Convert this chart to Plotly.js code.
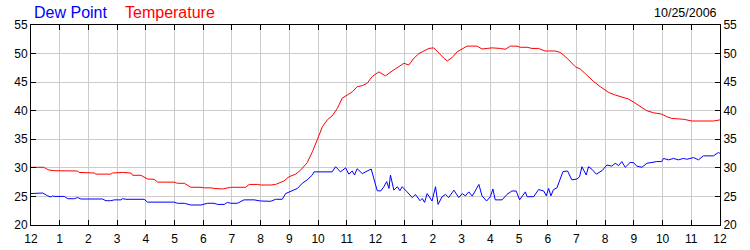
<!DOCTYPE html>
<html>
<head>
<meta charset="utf-8">
<script src="https://cdn.plot.ly/plotly-3.0.1.min.js"></script>
<style>html,body{margin:0;padding:0;background:#fff;}#chart{width:750px;height:250px;}</style>
</head>
<body>
<div id="chart"></div>
<script>
// Hours after midnight (0 = 12 AM, 24 = next 12 AM)
var tickHours = [0,1,2,3,4,5,6,7,8,9,10,11,12,13,14,15,16,17,18,19,20,21,22,23,24];
var tickLabels = ["12","1","2","3","4","5","6","7","8","9","10","11","12","1","2","3","4","5","6","7","8","9","10","11","12"];
var yTicks = [20,25,30,35,40,45,50,55];

var tempHours = [0.00,0.35,0.44,0.55,0.64,0.81,1.62,1.68,1.86,1.91,2.20,2.26,2.78,2.84,3.19,3.48,3.54,3.83,3.94,4.06,4.29,4.41,4.99,5.10,5.34,5.57,5.92,6.03,6.27,6.38,6.67,6.96,7.48,7.60,7.89,8.00,
  8.35,8.52,8.81,8.99,9.22,9.39,9.62,9.80,9.97,10.15,10.32,10.49,10.67,10.84,11.02,11.19,11.36,11.54,11.71,11.89,12.12,12.35,12.58,12.81,12.99,13.16,13.34,13.51,13.68,13.86,14.03,14.21,14.38,14.50,14.67,14.84,15.02,15.19,15.54,15.71,15.89,16.06,
  16.35,16.52,16.70,16.93,17.04,17.28,17.45,17.68,17.91,18.26,18.44,18.67,18.96,19.13,19.36,19.60,19.83,20.12,20.35,20.58,20.81,20.99,21.22,21.45,21.68,21.97,22.15,22.32,22.73,23.02,23.77,24.00];
var tempValues = [30.1,30.1,30.1,29.8,29.6,29.5,29.45,29.2,29.2,29.1,29.1,28.9,28.9,29.1,29.2,29.1,28.7,28.7,28.45,28.05,28.0,27.5,27.5,27.3,27.3,26.6,26.6,26.5,26.5,26.4,26.3,26.6,26.6,27.1,27.1,27.0,
  27.0,27.1,27.7,28.45,28.9,29.6,30.9,32.8,34.9,37.2,38.4,39.1,40.4,42.2,42.75,43.3,44.2,44.4,44.8,46.0,46.8,46.1,46.95,47.7,48.3,48.0,49.2,50.0,50.45,50.9,51.0,50.0,49.2,48.7,49.3,50.3,50.75,51.3,51.3,50.8,50.9,51.0,
  50.9,50.75,51.3,51.3,51.1,51.1,50.9,50.9,50.45,50.45,50.2,49.2,47.7,47.3,46.25,45.1,44.2,43.2,42.75,42.45,42.05,41.5,40.7,40.0,39.65,39.4,38.95,38.65,38.5,38.2,38.2,38.4];

var dewHours = [0.00,0.35,0.41,0.58,0.70,0.75,0.81,1.16,1.28,1.51,1.62,1.74,2.49,2.61,2.78,2.90,3.13,3.19,3.31,3.94,4.06,4.99,5.10,5.34,5.57,5.92,6.15,6.38,6.50,6.73,6.84,6.96,7.19,7.42,7.77,8.00,
  8.35,8.52,8.75,8.87,9.10,9.28,9.45,9.62,9.80,9.86,10.49,10.61,10.78,10.96,11.07,11.19,11.27,11.36,11.54,11.69,11.85,12.06,12.18,12.29,12.39,12.47,12.52,12.64,12.76,12.85,12.93,13.10,13.28,13.39,13.55,13.63,13.71,13.80,13.97,14.09,14.18,14.32,14.44,14.55,14.73,14.90,15.02,15.13,15.25,15.37,15.48,15.60,15.71,15.87,16.00,
  16.09,16.17,16.41,16.58,16.75,16.90,17.02,17.22,17.28,17.51,17.68,17.86,17.95,18.03,18.11,18.20,18.32,18.53,18.69,18.84,19.02,19.11,19.19,19.34,19.42,19.54,19.69,19.89,20.06,20.23,20.35,20.47,20.58,20.70,20.87,20.99,21.10,21.28,21.45,21.63,21.80,21.97,22.03,22.21,22.38,22.55,22.73,22.84,23.08,23.25,23.42,23.77,23.95,24.00];
var dewValues = [25.5,25.5,25.6,25.1,24.9,25.1,25.0,25.0,24.6,24.6,24.8,24.55,24.55,24.25,24.25,24.4,24.4,24.6,24.5,24.5,24.0,24.0,23.8,23.8,23.5,23.5,23.8,23.8,23.6,23.6,23.95,23.8,23.8,24.4,24.4,24.2,
  24.15,24.5,24.5,25.5,26.0,26.4,27.3,27.9,28.75,29.3,29.3,30.2,29.3,30.0,28.9,29.45,28.75,29.85,29.0,29.45,29.8,26.0,25.95,26.7,27.6,26.4,28.75,26.1,26.7,26.0,26.7,25.8,24.8,25.35,24.25,24.65,23.95,25.5,24.2,26.7,23.6,24.95,25.35,24.8,26.1,24.8,25.5,25.1,25.8,25.05,26.0,27.1,25.1,24.2,24.95,
  26.3,24.4,24.4,25.35,25.95,25.95,24.4,25.8,24.95,24.95,26.2,25.95,25.1,26.4,25.1,26.2,26.5,29.35,29.45,27.9,28.05,28.45,30.2,28.75,30.2,29.75,28.9,29.5,30.5,30.3,30.8,30.4,31.1,30.1,30.95,30.9,30.3,30.1,30.8,30.95,31.1,31.1,31.65,31.4,31.65,31.4,31.65,31.5,31.8,31.4,32.1,32.1,32.7,32.5];

var FONT = "'Liberation Sans', Arial, sans-serif";

var traces = [
  {x: tempHours, y: tempValues, type: 'scatter', mode: 'lines', name: 'Temperature',
   line: {color: 'rgb(255,0,0)', width: 1}, hoverinfo: 'skip'},
  {x: dewHours, y: dewValues, type: 'scatter', mode: 'lines', name: 'Dew Point',
   line: {color: 'rgb(0,0,255)', width: 1}, hoverinfo: 'skip'},
  {x: [null], y: [null], yaxis: 'y2', type: 'scatter', mode: 'lines', showlegend: false, hoverinfo: 'skip'}
];

var axisCommon = {
  showline: true, linecolor: '#000', linewidth: 1,
  ticks: 'inside', ticklen: 5, tickcolor: '#000', tickwidth: 1,
  tickfont: {family: FONT, size: 12, color: '#000'},
  zeroline: false, fixedrange: true
};

var layout = {
  width: 750, height: 250,
  margin: {l: 31, r: 30, t: 25, b: 25, pad: 0},
  paper_bgcolor: '#fff', plot_bgcolor: '#fff',
  showlegend: false,
  font: {family: FONT, size: 12, color: '#000'},
  xaxis: Object.assign({}, axisCommon, {
    range: [0, 24], tickmode: 'array', tickvals: tickHours, ticktext: tickLabels,
    showgrid: true, gridcolor: '#cccccc', gridwidth: 1, mirror: 'ticks', ticklabelstandoff: 3
  }),
  yaxis: Object.assign({}, axisCommon, {
    range: [20, 55], tickmode: 'array', tickvals: yTicks,
    showgrid: true, gridcolor: '#cccccc', gridwidth: 1, mirror: true
  }),
  yaxis2: Object.assign({}, axisCommon, {
    range: [20, 55], tickmode: 'array', tickvals: yTicks,
    overlaying: 'y', side: 'right', showgrid: false
  }),
  annotations: [
    {text: 'Dew Point', xref: 'paper', yref: 'paper', x: (33 - 31) / 689, y: 1, xanchor: 'left', yanchor: 'bottom',
     yshift: 3, showarrow: false, borderpad: 0, font: {family: FONT, size: 16, color: 'rgb(0,0,255)'}},
    {text: 'Temperature', xref: 'paper', yref: 'paper', x: (124 - 31) / 689, y: 1, xanchor: 'left', yanchor: 'bottom',
     yshift: 3, showarrow: false, borderpad: 0, font: {family: FONT, size: 16, color: 'rgb(255,0,0)'}},
    {text: '10/25/2006', xref: 'paper', yref: 'paper', x: (718 - 31) / 689, y: 1, xanchor: 'right', yanchor: 'bottom',
     yshift: 4, showarrow: false, borderpad: 0, font: {family: FONT, size: 12.5, color: '#000'}}
  ]
};

Plotly.newPlot('chart', traces, layout, {staticPlot: true, displayModeBar: false});
</script>
</body>
</html>
